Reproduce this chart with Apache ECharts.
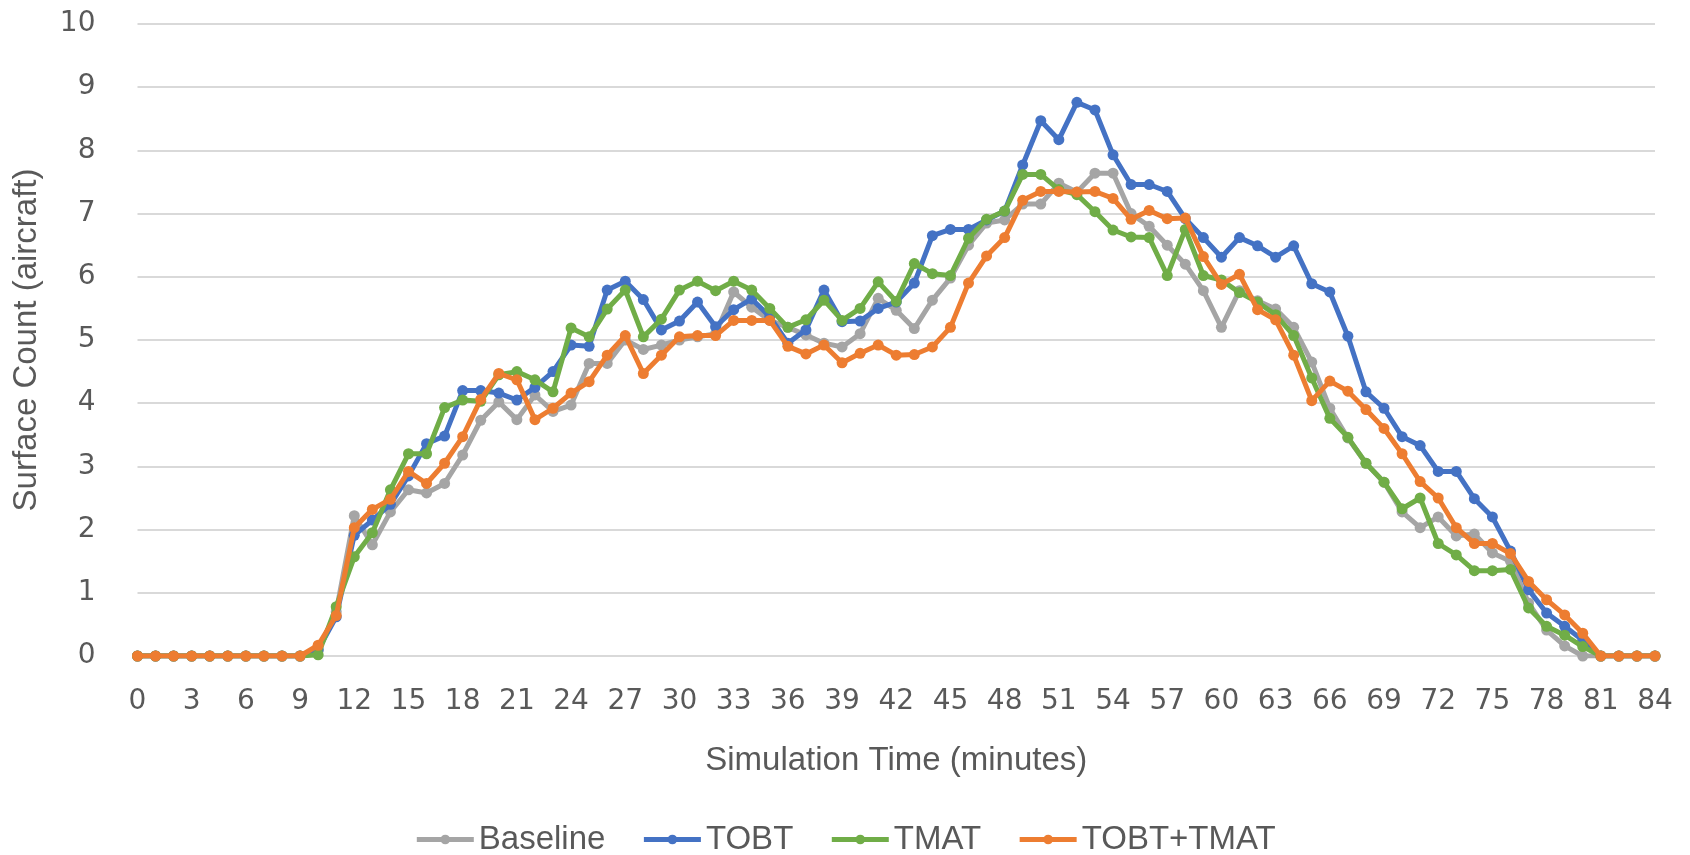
<!DOCTYPE html>
<html>
<head>
<meta charset="utf-8">
<style>
html,body{margin:0;padding:0;background:#fff;}
#chart{width:1690px;height:855px;}
</style>
<script src="https://cdn.jsdelivr.net/npm/echarts@6/dist/echarts.min.js"></script>
</head>
<body>
<div id="chart"></div>
<script>
var minutes = ["0","1","2","3","4","5","6","7","8","9","10","11","12","13","14","15","16","17","18","19","20","21","22","23","24","25","26","27","28","29","30","31","32","33","34","35","36","37","38","39","40","41","42","43","44","45","46","47","48","49","50","51","52","53","54","55","56","57","58","59","60","61","62","63","64","65","66","67","68","69","70","71","72","73","74","75","76","77","78","79","80","81","82","83","84"];

var baseline = [0,0,0,0,0,0,0,0,0,0,
  0.1,0.7,2.22,1.76,2.28,2.63,2.58,2.73,3.18,3.73,
  4.02,3.74,4.13,3.87,3.97,4.63,4.63,5.0,4.85,4.92,
  5.0,5.05,5.1,5.76,5.52,5.31,5.2,5.08,4.95,4.89,
  5.1,5.66,5.47,5.18,5.63,5.98,6.5,6.85,6.9,7.15,
  7.15,7.48,7.34,7.64,7.64,7.0,6.8,6.5,6.2,5.78,
  5.2,5.78,5.62,5.49,5.2,4.65,3.92,3.45,3.05,2.75,
  2.28,2.03,2.2,1.9,1.93,1.63,1.5,0.84,0.41,0.16,
  0,0,0,0,0];

var tobt = [0,0,0,0,0,0,0,0,0,0,
  0.1,0.62,1.91,2.15,2.4,2.85,3.36,3.48,4.2,4.2,
  4.16,4.05,4.25,4.5,4.92,4.9,5.79,5.93,5.64,5.16,
  5.3,5.6,5.21,5.48,5.65,5.37,4.95,5.16,5.79,5.29,
  5.3,5.5,5.6,5.9,6.65,6.75,6.75,6.9,7.04,7.77,
  8.47,8.17,8.76,8.64,7.93,7.46,7.46,7.35,6.92,6.62,
  6.31,6.62,6.49,6.31,6.49,5.89,5.76,5.06,4.18,3.92,
  3.47,3.33,2.92,2.92,2.49,2.2,1.66,1.05,0.68,0.47,
  0.25,0,0,0,0];

var tmat = [0,0,0,0,0,0,0,0,0,0,
  0.02,0.78,1.57,1.95,2.63,3.2,3.2,3.93,4.05,4.03,
  4.45,4.5,4.37,4.18,5.19,5.05,5.49,5.79,5.05,5.33,
  5.79,5.93,5.78,5.93,5.79,5.5,5.2,5.32,5.63,5.31,
  5.5,5.92,5.61,6.21,6.05,6.02,6.61,6.91,7.04,7.62,
  7.62,7.38,7.3,7.03,6.74,6.63,6.62,6.02,6.75,6.02,
  5.95,5.75,5.6,5.4,5.07,4.4,3.76,3.46,3.05,2.75,
  2.33,2.5,1.78,1.6,1.35,1.35,1.37,0.76,0.47,0.33,
  0.15,0,0,0,0];

var tobtTmat = [0,0,0,0,0,0,0,0,0,0,
  0.17,0.64,2.03,2.32,2.48,2.92,2.73,3.05,3.47,4.06,
  4.47,4.37,3.74,3.92,4.16,4.34,4.76,5.07,4.47,4.76,
  5.05,5.07,5.07,5.31,5.31,5.31,4.9,4.78,4.92,4.64,
  4.79,4.92,4.76,4.77,4.89,5.2,5.9,6.33,6.62,7.21,
  7.35,7.35,7.34,7.35,7.24,6.91,7.05,6.92,6.93,6.32,
  5.88,6.04,5.48,5.32,4.76,4.04,4.35,4.19,3.9,3.6,
  3.2,2.76,2.5,2.03,1.78,1.78,1.62,1.18,0.89,0.65,
  0.36,0,0,0,0];

var seriesNames = ["Baseline","TOBT","TMAT","TOBT+TMAT"];
var seriesColors = ["#A5A5A5","#4472C4","#70AD47","#ED7D31"];
var seriesData = [baseline, tobt, tmat, tobtTmat];

var labelFont = "'DejaVu Sans', sans-serif";
var titleFont = "'Liberation Sans', sans-serif";

var chart = echarts.init(document.getElementById('chart'), null, {renderer:'canvas'});
chart.setOption({
  animation: false,
  backgroundColor: '#ffffff',
  grid: {left: 137.5, right: 35, top: 24, bottom: 199, containLabel: false},
  legend: {
    data: seriesNames,
    bottom: -6,
    left: 'center',
    itemWidth: 57,
    itemHeight: 12,
    itemGap: 36,
    lineStyle: {width: 5},
    textStyle: {fontFamily: titleFont, fontSize: 33, color: '#595959'}
  },
  xAxis: {
    type: 'category',
    data: minutes,
    boundaryGap: false,
    name: 'Simulation Time (minutes)',
    nameLocation: 'middle',
    nameGap: 88,
    nameTextStyle: {fontFamily: titleFont, fontSize: 33, color: '#595959'},
    axisLine: {show: true, lineStyle: {color: '#D9D9D9', width: 2}},
    axisTick: {show: false},
    axisLabel: {interval: 2, margin: 32, fontFamily: labelFont, fontSize: 28, color: '#595959'},
    splitLine: {show: false}
  },
  yAxis: {
    type: 'value',
    min: 0,
    max: 10,
    interval: 1,
    name: 'Surface Count (aircraft)',
    nameLocation: 'middle',
    nameGap: 94,
    nameTextStyle: {fontFamily: titleFont, fontSize: 33, color: '#595959'},
    axisLine: {show: false},
    axisTick: {show: false},
    axisLabel: {margin: 42, fontFamily: labelFont, fontSize: 28, color: '#595959'},
    splitLine: {show: true, lineStyle: {color: '#D9D9D9', width: 2}}
  },
  series: seriesNames.map(function(name, i){
    return {
      name: name,
      type: 'line',
      data: seriesData[i],
      symbol: 'circle',
      symbolSize: 11,
      showAllSymbol: true,
      color: seriesColors[i],
      lineStyle: {width: 5, color: seriesColors[i]},
      itemStyle: {color: seriesColors[i]},
      z: 2 + i
    };
  })
});
</script>
</body>
</html>
